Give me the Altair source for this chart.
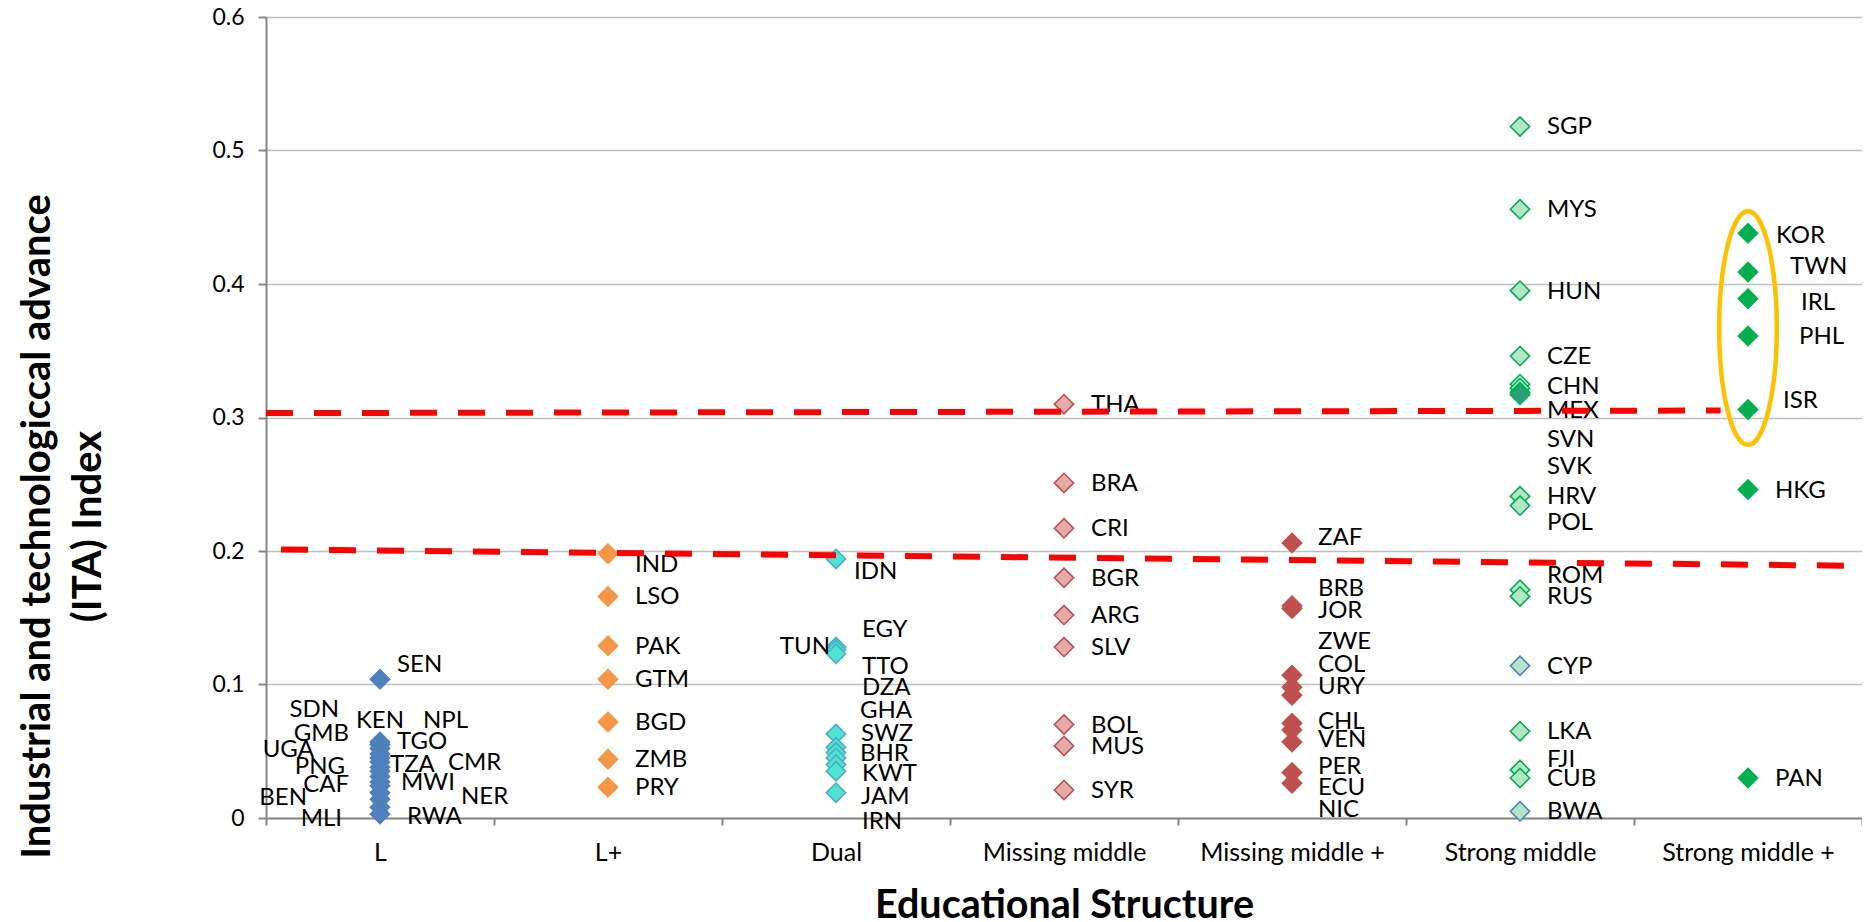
import altair as alt
import pandas as pd

# Educational structure groups (x axis)
categories = ["L", "L+", "Dual", "Missing middle", "Missing middle +",
              "Strong middle", "Strong middle +"]

# ITA index by country, one pair of lists per educational structure
l_codes = ["SEN", "SDN", "KEN", "NPL", "GMB", "TGO", "UGA", "CMR", "TZA",
           "PNG", "MWI", "CAF", "NER", "BEN", "RWA", "MLI"]
l_ita = [0.104, 0.057, 0.055, 0.052, 0.048, 0.045, 0.042, 0.038, 0.035,
         0.031, 0.027, 0.024, 0.019, 0.014, 0.008, 0.003]

lplus_codes = ["IND", "LSO", "PAK", "GTM", "BGD", "ZMB", "PRY"]
lplus_ita = [0.198, 0.166, 0.129, 0.104, 0.072, 0.044, 0.023]

dual_codes = ["IDN", "EGY", "TUN", "TTO", "SWZ", "DZA", "GHA", "BHR", "KWT",
              "IRN", "JAM"]
dual_ita = [0.194, 0.128, 0.126, 0.123, 0.063, 0.053, 0.049, 0.045, 0.040,
            0.035, 0.019]

mm_codes = ["THA", "BRA", "CRI", "BGR", "ARG", "SLV", "BOL", "MUS", "SYR"]
mm_ita = [0.310, 0.251, 0.217, 0.180, 0.152, 0.128, 0.070, 0.054, 0.021]

mmplus_codes = ["ZAF", "BRB", "JOR", "ZWE", "COL", "URY", "CHL", "VEN", "PER",
                "ECU", "NIC"]
mmplus_ita = [0.206, 0.159, 0.157, 0.107, 0.098, 0.092, 0.071, 0.066, 0.057,
              0.034, 0.026]

sm_codes = ["SGP", "MYS", "HUN", "CZE", "CHN", "MEX", "SVN", "SVK", "HRV",
            "POL", "ROM", "RUS", "CYP", "LKA", "FJI", "CUB", "BWA"]
sm_ita = [0.518, 0.456, 0.395, 0.346, 0.325, 0.322, 0.319, 0.317, 0.241,
          0.234, 0.171, 0.166, 0.114, 0.065, 0.036, 0.030, 0.005]

smplus_codes = ["KOR", "TWN", "IRL", "PHL", "ISR", "HKG", "PAN"]
smplus_ita = [0.438, 0.409, 0.389, 0.361, 0.306, 0.246, 0.030]

# Two linear trend lines, endpoints in category units (0 = left edge, 7 = right edge)
upper_pos = [0.0, 6.38]
upper_ita = [0.3033, 0.3052]
lower_pos = [0.0, 7.0]
lower_ita = [0.2012, 0.1889]

# Highlighted cluster (KOR ... ISR)
highlight_cat = ["Strong middle +"]
highlight_ita = [0.367]

# ---------------------------------------------------------------- styling
PLOT_W, PLOT_H = 1596, 801
Y_MAX = 0.6
BAND = PLOT_W / len(categories)

marker_style = {
    "L": ("#4F81BD", "#4F81BD"),
    "L+": ("#F79646", "#F79646"),
    "Dual": ("#4FE3D3", "#4BACC6"),
    "Missing middle": ("#E3ABAA", "#C0504D"),
    "Missing middle +": ("#C0504D", "#C0504D"),
    "Strong middle": ("#B3E6C6", "#00B050"),
    "Strong middle +": ("#00B050", "#00B050"),
}
marker_override = {
    "CYP": ("#B3E6C6", "#4F81BD"),
    "BWA": ("#B3E6C6", "#4F81BD"),
    "SVN": ("#2F9E80", "#00B050"),
    "SVK": ("#2F9E80", "#00B050"),
}

# label placement: side of the marker, x shift and y shift in pixels
label_layout = {
    "SEN": ("r", 17, -14), "SDN": ("l", -41, -32), "KEN": ("c", 0, -24),
    "NPL": ("r", 43, -28), "GMB": ("l", -31, -20), "TGO": ("r", 17, -16),
    "UGA": ("l", -66, -12), "CMR": ("r", 68, -4), "TZA": ("r", 10, -6),
    "PNG": ("l", -35, -10), "MWI": ("r", 21, 1), "CAF": ("l", -31, -1),
    "NER": ("r", 81, 4), "BEN": ("l", -73, -1), "RWA": ("r", 27, 10),
    "MLI": ("l", -38, 5),
    "IND": ("r", 27, 11),
    "IDN": ("r", 18, 13), "TUN": ("l", -6, -3), "EGY": ("r", 26, -17),
    "TTO": ("r", 26, 13), "DZA": ("r", 26, -59), "GHA": ("r", 24, -42),
    "SWZ": ("r", 25, 0), "BHR": ("r", 24, -4), "KWT": ("r", 26, 9),
    "JAM": ("r", 25, 4), "IRN": ("r", 26, 51),
    "ZAF": ("r", 26, -5), "BRB": ("r", 26, -17), "JOR": ("r", 26, 3),
    "ZWE": ("r", 26, -33), "COL": ("r", 26, -22), "URY": ("r", 26, -8),
    "CHL": ("r", 26, -1), "VEN": ("r", 26, 10), "PER": ("r", 26, 25),
    "ECU": ("r", 26, 15), "NIC": ("r", 26, 27),
    "CHN": ("r", 27, 3), "MEX": ("r", 27, 23), "SVN": ("r", 27, 48),
    "SVK": ("r", 27, 72), "POL": ("r", 27, 17), "ROM": ("r", 27, -14),
    "FJI": ("r", 27, -10),
    "KOR": ("r", 28, 3), "TWN": ("r", 42, -5), "IRL": ("r", 53, 4),
    "PHL": ("r", 51, 1), "ISR": ("r", 35, -8),
}
default_label = ("r", 27, 1)

rows = []
for cat, codes, vals in [
    ("L", l_codes, l_ita), ("L+", lplus_codes, lplus_ita),
    ("Dual", dual_codes, dual_ita), ("Missing middle", mm_codes, mm_ita),
    ("Missing middle +", mmplus_codes, mmplus_ita),
    ("Strong middle", sm_codes, sm_ita),
    ("Strong middle +", smplus_codes, smplus_ita),
]:
    for code, v in zip(codes, vals):
        fill, stroke = marker_override.get(code, marker_style[cat])
        side, dx, dy = label_layout.get(code, default_label)
        rows.append(dict(cat=cat, code=code, ita=v, fill=fill, stroke=stroke,
                         side=side, dx=dx + BAND / 2,
                         # pixel shift converted to index units for the label anchor
                         lab_y=v - dy * Y_MAX / PLOT_H))
df = pd.DataFrame(rows)

FONT = "Lato"


def band_x(axis=None):
    scale = alt.Scale(type="band", domain=categories, paddingInner=0, paddingOuter=0)
    if axis is None:
        return alt.X("cat:N", scale=scale)
    return alt.X("cat:N", scale=scale, axis=axis)


y_scale = alt.Scale(domain=[0, Y_MAX], nice=False, zero=True)

x_axis = alt.Axis(
    title="Educational Structure", titleFont=FONT, titleFontSize=39.5,
    titleFontWeight="bold", titleColor="black", titleY=99,
    titleBaseline="alphabetic",
    labelAngle=0, labelFont=FONT, labelFontSize=25, labelColor="black",
    labelPadding=15, labelLimit=0, tickBand="extent", tickSize=7, tickWidth=2,
    tickColor="#868686", domainColor="#868686", domainWidth=2, grid=False,
)
y_enc = alt.Y(
    "ita:Q",
    scale=y_scale,
    axis=alt.Axis(
        values=[0, 0.1, 0.2, 0.3, 0.4, 0.5, 0.6], format=".1~f",
        title=["Industrial and technologiccal advance", "(ITA)  Index"],
        titleFont=FONT, titleFontSize=40, titleFontWeight="bold",
        titleColor="black", titleAngle=270, titleAlign="center",
        titleBaseline="middle", titleX=-229, titleY=509, titleLineHeight=51,
        labelFont=FONT, labelFontSize=23, labelColor="black", labelPadding=14,
        tickSize=8, tickWidth=2, tickColor="#868686",
        domainColor="#868686", domainWidth=2,
        grid=True, gridColor="#BFBFBF", gridWidth=1.5,
    ),
)

points = alt.Chart(df).mark_point(
    shape="diamond", filled=True, size=370, strokeWidth=1.6, opacity=1
).encode(
    x=band_x(x_axis), y=y_enc,
    fill=alt.Fill("fill:N", scale=None),
    stroke=alt.Stroke("stroke:N", scale=None),
)


def label_layer(side, align):
    return alt.Chart(df).transform_filter(
        alt.datum.side == side
    ).mark_text(
        align=align, baseline="middle", font=FONT, fontSize=24, color="black"
    ).encode(
        x=band_x(),
        y=alt.Y("lab_y:Q", scale=y_scale),
        xOffset=alt.XOffset("dx:Q", scale=None),
        text="code:N",
    )


labels_r = label_layer("r", "left")
labels_l = label_layer("l", "right")
labels_c = label_layer("c", "center")

# orange ellipse drawn as a custom symbol around the Strong middle + leaders
ellipse_path = "M0,-1A0.247,1,0,1,1,0,1A0.247,1,0,1,1,0,-1Z"
ellipse = alt.Chart(
    pd.DataFrame({"cat": highlight_cat, "ita": highlight_ita})
).mark_point(
    shape=ellipse_path, size=54500, filled=False, stroke="#FFC000",
    strokeWidth=4.5, opacity=1
).encode(
    x=band_x(),
    y=alt.Y("ita:Q", scale=y_scale),
)

main = alt.layer(points, labels_r, labels_l, labels_c, ellipse)

trend_x = alt.X("pos:Q", scale=alt.Scale(domain=[0, 7], nice=False, zero=False),
                axis=None)


def trend_line(pos, vals, dash_offset):
    return alt.Chart(pd.DataFrame({"pos": pos, "ita": vals})).mark_line(
        color="#FF0000", strokeWidth=6, strokeDash=[27, 21],
        strokeDashOffset=dash_offset
    ).encode(x=trend_x, y=alt.Y("ita:Q", scale=y_scale))


trend = alt.layer(trend_line(upper_pos, upper_ita, 0),
                  trend_line(lower_pos, lower_ita, 33))

chart = alt.layer(main, trend).resolve_scale(x="independent").properties(
    width=PLOT_W, height=PLOT_H,
    autosize=alt.AutoSizeParams(type="none"),
    padding={"left": 266, "top": 17, "right": 0, "bottom": 103},
    background="white",
).configure_view(stroke=None)

chart.save("out.html", embed_options={"renderer": "svg", "actions": False})
